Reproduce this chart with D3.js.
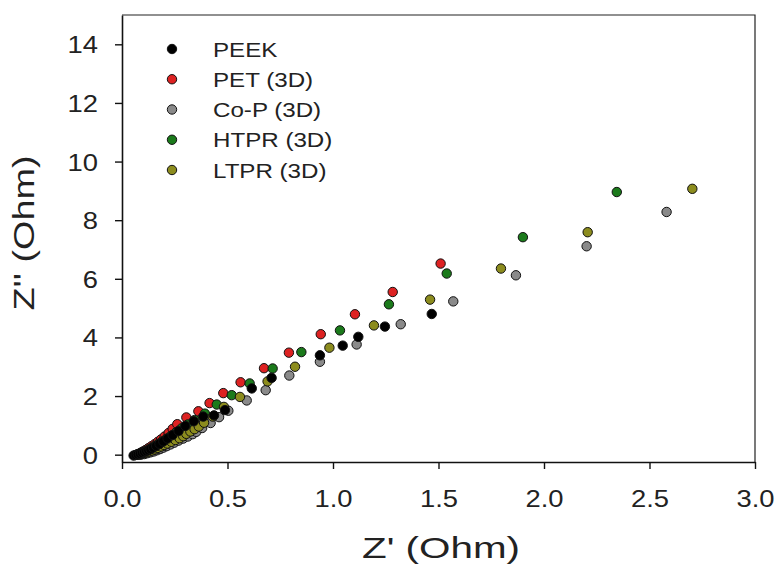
<!DOCTYPE html>
<html>
<head>
<meta charset="utf-8">
<script src="https://cdn.jsdelivr.net/npm/d3@7"></script>
<style>
  html, body { margin: 0; padding: 0; background: #fff; }
  text { font-family: Arial, "Liberation Sans", sans-serif; fill: #222; }
</style>
</head>
<body>
<svg id="chart" width="778" height="571"></svg>
<script>
// ---- data ----
const seriesNames = ["PEEK", "PET (3D)", "Co-P (3D)", "HTPR (3D)", "LTPR (3D)"];
const seriesColors = ["#000000", "#dd2222", "#8a8a8a", "#1b7a1b", "#8c8c1e"];

const peekX = [0.055,0.065,0.075,0.085,0.095,0.105,0.115,0.125,0.135,0.148,0.162,0.178,0.196,0.216,0.24,0.268,0.30,0.34,0.385,0.436,0.488,0.615,0.709,0.938,1.046,1.12,1.246,1.468];
const peekY = [-0.03,-0.01,0.01,0.03,0.06,0.09,0.12,0.15,0.19,0.24,0.30,0.37,0.45,0.55,0.67,0.81,0.98,1.14,1.30,1.34,1.52,2.26,2.62,3.39,3.72,4.02,4.37,4.80];

const petX = [0.07,0.08,0.09,0.10,0.112,0.125,0.14,0.155,0.17,0.185,0.202,0.221,0.24,0.262,0.305,0.362,0.415,0.48,0.562,0.673,0.791,0.942,1.104,1.283,1.51];
const petY = [0.0,0.03,0.07,0.11,0.16,0.22,0.29,0.36,0.44,0.52,0.62,0.74,0.88,1.04,1.27,1.48,1.76,2.10,2.47,2.95,3.48,4.11,4.79,5.55,6.52];

const copX = [0.09,0.105,0.12,0.135,0.15,0.165,0.18,0.196,0.212,0.23,0.248,0.268,0.29,0.312,0.335,0.352,0.38,0.42,0.46,0.504,0.591,0.681,0.793,0.938,1.112,1.321,1.57,1.867,2.202,2.581];
const copY = [0.0,0.02,0.05,0.08,0.11,0.15,0.19,0.24,0.29,0.35,0.41,0.48,0.55,0.62,0.70,0.78,0.91,1.08,1.28,1.50,1.85,2.20,2.70,3.17,3.76,4.45,5.23,6.12,7.11,8.28];

const htprX = [0.07,0.08,0.09,0.10,0.112,0.125,0.14,0.156,0.173,0.19,0.21,0.232,0.256,0.283,0.312,0.344,0.393,0.449,0.52,0.605,0.714,0.85,1.033,1.265,1.539,1.90,2.345];
const htprY = [0.0,0.02,0.05,0.08,0.12,0.17,0.23,0.30,0.37,0.45,0.54,0.64,0.76,0.90,1.03,1.18,1.40,1.71,2.03,2.43,2.94,3.50,4.24,5.13,6.18,7.42,8.96];

const ltprX = [0.08,0.095,0.11,0.125,0.14,0.155,0.17,0.185,0.20,0.215,0.234,0.253,0.273,0.29,0.305,0.324,0.344,0.364,0.389,0.43,0.483,0.559,0.69,0.82,0.983,1.194,1.46,1.796,2.207,2.703];
const ltprY = [0.0,0.03,0.06,0.10,0.14,0.18,0.23,0.28,0.33,0.38,0.44,0.50,0.56,0.63,0.71,0.79,0.87,0.96,1.09,1.30,1.63,1.97,2.50,3.00,3.65,4.41,5.29,6.35,7.59,9.07];

const xTicks = [0.0, 0.5, 1.0, 1.5, 2.0, 2.5, 3.0];
const yTicks = [0, 2, 4, 6, 8, 10, 12, 14];
const xTitle = "Z' (Ohm)";
const yTitle = "Z'' (Ohm)";

const seriesX = [peekX, petX, copX, htprX, ltprX];
const seriesY = [peekY, petY, copY, htprY, ltprY];
const drawOrder = [1, 2, 3, 4, 0];

// ---- layout ----
const plot = { left: 122, right: 755, top: 15, bottom: 462 };

const svg = d3.select("#chart");
const x = d3.scaleLinear().domain([0, 3]).range([plot.left, plot.right]);
const y = d3.scaleLinear().domain([-0.25, 15]).range([plot.bottom, plot.top]);

// frame (top & right)
svg.append("path")
  .attr("d", `M${plot.left},${plot.top}H${plot.right}V${plot.bottom}`)
  .attr("fill", "none").attr("stroke", "#222").attr("stroke-width", 1.2);

// x axis
const gx = svg.append("g").attr("transform", `translate(0,${plot.bottom})`)
  .call(d3.axisBottom(x).tickValues(xTicks).tickFormat(d3.format(".1f")).tickSize(7).tickSizeOuter(0));
gx.select(".domain").attr("stroke", "#111").attr("stroke-width", 1.6);
gx.selectAll(".tick line").attr("stroke", "#111").attr("stroke-width", 1.4);
gx.selectAll(".tick text")
  .attr("y", 0).attr("dy", 0)
  .attr("transform", "translate(0,45) scale(1.14,1)")
  .style("font-size", "24px").attr("fill", "#222");

// y axis
const gy = svg.append("g").attr("transform", `translate(${plot.left},0)`)
  .call(d3.axisLeft(y).tickValues(yTicks).tickFormat(d3.format("d")).tickSize(7).tickSizeOuter(0));
gy.select(".domain").attr("stroke", "#111").attr("stroke-width", 1.6);
gy.selectAll(".tick line").attr("stroke", "#111").attr("stroke-width", 1.4);
gy.selectAll(".tick text")
  .attr("x", 0).attr("dy", 0)
  .attr("transform", "translate(-24,8.5) scale(1.14,1)")
  .style("font-size", "24px").attr("fill", "#222");

// axis titles
svg.append("text")
  .attr("x", 441).attr("y", 558)
  .attr("text-anchor", "middle")
  .attr("textLength", 158).attr("lengthAdjust", "spacingAndGlyphs")
  .style("font-size", "29px")
  .text(xTitle);

svg.append("text")
  .attr("transform", "translate(34,233) rotate(-90)")
  .attr("text-anchor", "middle")
  .attr("textLength", 155).attr("lengthAdjust", "spacingAndGlyphs")
  .style("font-size", "29px")
  .text(yTitle);

// points
drawOrder.forEach(i => {
  const pts = seriesX[i].map((v, j) => [v, seriesY[i][j]]);
  svg.append("g").selectAll("circle").data(pts).join("circle")
    .attr("cx", d => x(d[0])).attr("cy", d => y(d[1]))
    .attr("r", 4.7)
    .attr("fill", seriesColors[i])
    .attr("stroke", "#111").attr("stroke-width", 1);
});

// legend
const legend = svg.append("g");
const legendY = d3.scaleLinear().domain([0, 4]).range([49, 170]);
seriesNames.forEach((name, i) => {
  const cy = legendY(i);
  legend.append("circle").attr("cx", 172).attr("cy", cy).attr("r", 4.7)
    .attr("fill", seriesColors[i]).attr("stroke", "#111").attr("stroke-width", 1);
  legend.append("text")
    .attr("transform", `translate(213,${cy + 7.5}) scale(1.15,1)`)
    .style("font-size", "21px")
    .text(name);
});
</script>
</body>
</html>
